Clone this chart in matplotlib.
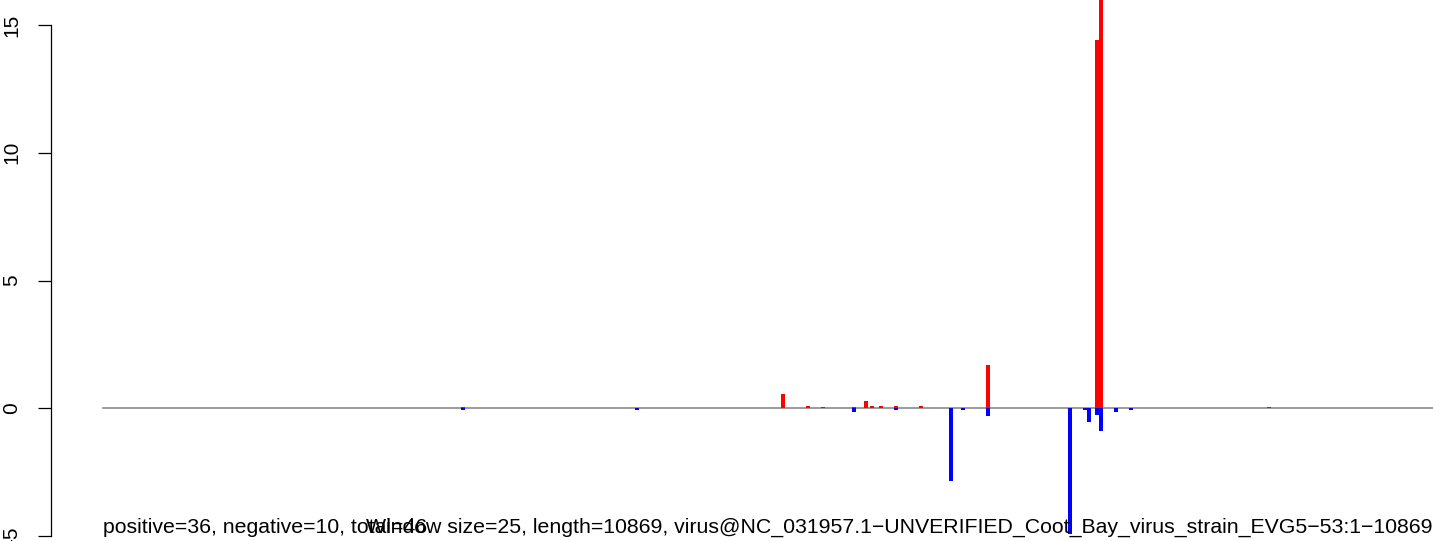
import matplotlib
matplotlib.use("Agg")
import matplotlib.pyplot as plt

plt.rcParams['font.family'] = ['Liberation Sans', 'DejaVu Sans']

# Data (genome position in nt, score)
pos_x = [2942, 5557, 5761, 5884, 6137, 6235, 6284, 6358, 6480, 6685, 7232, 8127, 8156, 9528]
pos_y = [0.07, 0.57, 0.08, 0.07, 0.07, 0.29, 0.08, 0.08, 0.10, 0.08, 1.70, 14.41, 17.0, 0.07]
neg_x = [2942, 4361, 6137, 6480, 6930, 7028, 7232, 7902, 8025, 8054, 8127, 8156, 8278, 8401]
neg_y = [-0.07, -0.07, -0.15, -0.08, -2.85, -0.07, -0.29, -4.92, -0.07, -0.52, -0.27, -0.88, -0.15, -0.07]
genome_length = 10869
yticks = [-5, 0, 5, 10, 15]
left_text = "positive=36, negative=10, total=46"
right_text = ("Window size=25, length=10869, "
              "virus@NC_031957.1\u2212UNVERIFIED_Coot_Bay_virus_strain_EVG5\u221253:1\u221210869")

W, H = 1433, 541
fig = plt.figure(figsize=(W / 100, H / 100), dpi=100)
ax = fig.add_axes([51 / W, 0, 1 - 51 / W, 1])

ax.plot([1, genome_length], [0, 0], color='#808080', lw=1.1, zorder=1)
ax.bar(pos_x, pos_y, width=33, color='#ff0000', linewidth=0, zorder=2)
ax.bar(neg_x, neg_y, width=33, color='#0000ff', linewidth=0, zorder=2)

ax.set_xlim(-425, genome_length)
ax.set_ylim((408.3 - H) / 25.55, 408.3 / 25.55)

for s in ['top', 'right', 'bottom']:
    ax.spines[s].set_visible(False)
ax.spines['left'].set_bounds(-5, 15)
ax.spines['left'].set_linewidth(0.9)
ax.set_xticks([])
ax.set_yticks(yticks)
ax.set_yticklabels([str(t) for t in yticks], rotation=90, va='center', fontsize=15)
ax.tick_params(axis='y', direction='out', length=9.5, width=0.9, pad=12)

fig.text(103 / W, (H - 533) / H, left_text, ha='left', va='baseline', fontsize=15.3)
fig.text(1432 / W, (H - 533) / H, right_text, ha='right', va='baseline', fontsize=15.3)

fig.savefig("out.png", dpi=100)
